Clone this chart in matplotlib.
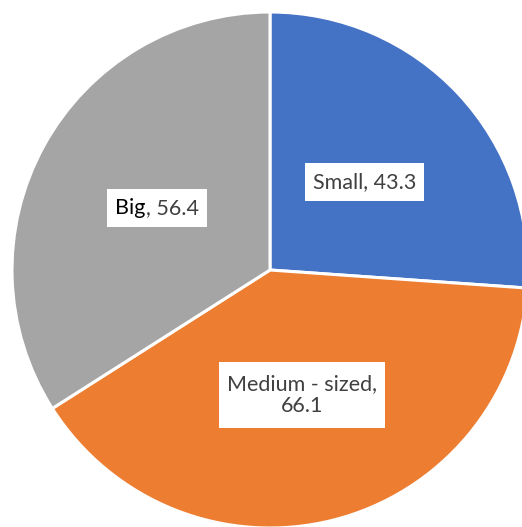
import matplotlib.pyplot as plt
import numpy as np
from matplotlib.patches import Rectangle

plt.close('all')

labels = ['Small', 'Medium - sized', 'Big']
values = [43.3, 66.1, 56.4]
colors = ['#4472C4', '#ED7D31', '#A5A5A5']
value_text = ['43.3', '66.1', '56.4']

fig = plt.figure(figsize=(5.22, 5.27), dpi=100)
ax = fig.add_axes([0, 0, 1, 1])

R = 258
wedges, _ = ax.pie(values, colors=colors, startangle=90, counterclock=False,
                   radius=R, wedgeprops=dict(edgecolor='white', linewidth=2.2))

ax.set_xlim(-270, 252)
ax.set_ylim(-257, 270)
ax.set_aspect('equal')
ax.axis('off')

fs = 15.5
grey = '#404040'
groups = []
for i, w in enumerate(wedges):
    mid = np.deg2rad((w.theta1 + w.theta2) / 2)
    x, y = 0.5 * R * np.cos(mid), 0.5 * R * np.sin(mid)
    if labels[i] == 'Big':
        t1 = ax.text(x, y, 'Big', ha='left', va='center', fontsize=fs,
                     family='Lato', color='black', zorder=5)
        t2 = ax.annotate(', ' + value_text[i], xy=(1, 0), xycoords=t1,
                         ha='left', va='bottom', fontsize=fs, family='Lato',
                         color=grey, zorder=5)
        groups.append((x, y, 1, [t1, t2]))
    else:
        if labels[i] == 'Medium - sized':
            s = labels[i] + ',\n' + value_text[i]
            n = 2
        else:
            s = labels[i] + ', ' + value_text[i]
            n = 1
        t = ax.text(x, y, s, ha='center', va='center', fontsize=fs,
                    family='Lato', color=grey, linespacing=1.15, zorder=5)
        groups.append((x, y, n, [t]))

# center the two-coloured label, then draw white boxes behind the labels
fig.canvas.draw()
r = fig.canvas.get_renderer()
inv = ax.transData.inverted()
for x, y, n, ts in groups:
    if len(ts) == 2:
        ext = [t.get_window_extent(r) for t in ts]
        x0 = min(e.x0 for e in ext)
        x1 = max(e.x1 for e in ext)
        cx = inv.transform(((x0 + x1) / 2, 0))[0]
        px, py = ts[0].get_position()
        ts[0].set_position((px - (cx - x), py))
fig.canvas.draw()
for x, y, n, ts in groups:
    ext = [inv.transform(t.get_window_extent(r)) for t in ts]
    x0 = min(e[0][0] for e in ext) - 8
    x1 = max(e[1][0] for e in ext) + 8
    h = 38 if n == 1 else 66
    ax.add_patch(Rectangle((x0, y - h / 2), x1 - x0, h, facecolor='white',
                           edgecolor='none', zorder=4))

fig.savefig('out.png', dpi=100)
